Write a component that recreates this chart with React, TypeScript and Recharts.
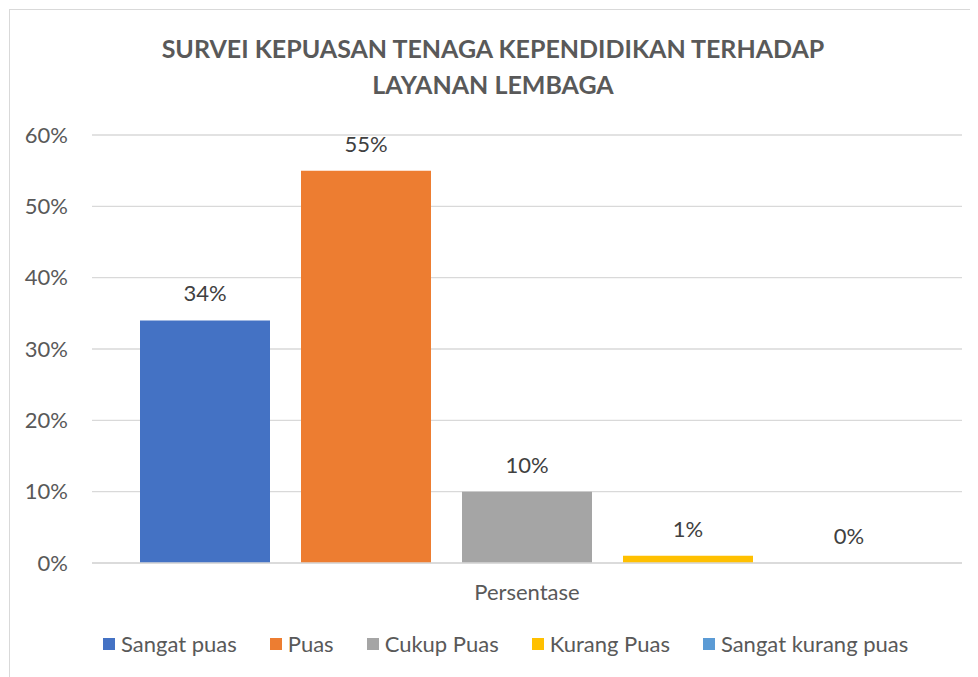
import React from 'react';
import { BarChart, Bar, XAxis, YAxis, CartesianGrid, LabelList } from 'recharts';

const categories = ['Persentase'];
const seriesNames = ['Sangat puas', 'Puas', 'Cukup Puas', 'Kurang Puas', 'Sangat kurang puas'];
const seriesKeys = ['sangatPuas', 'puas', 'cukupPuas', 'kurangPuas', 'sangatKurangPuas'];
const seriesValues = [0.34, 0.55, 0.10, 0.01, 0.0];
const seriesColors = ['#4472C4', '#ED7D31', '#A5A5A5', '#FFC000', '#5B9BD5'];
const yTicks = [0, 0.1, 0.2, 0.3, 0.4, 0.5, 0.6];
const titleLines = ['SURVEI KEPUASAN TENAGA KEPENDIDIKAN TERHADAP', 'LAYANAN LEMBAGA'];

const data = categories.map((c) => {
  const row: Record<string, any> = { name: c };
  seriesKeys.forEach((k, i) => {
    row[k] = seriesValues[i];
  });
  return row;
});

const FONT = 'Lato, "Open Sans", sans-serif';
const pct = (v: number) => `${Math.round(v * 100)}%`;

export default function App() {
  return (
    <div
      style={{
        position: 'relative',
        width: 1000,
        height: 669,
        margin: '1px 0 0 1px',
        border: '1px solid #D9D9D9',
        boxSizing: 'border-box',
        background: '#fff',
        fontFamily: FONT,
      }}
    >
      <div
        style={{
          position: 'absolute',
          left: 0,
          top: 20,
          width: 1000 - 2 - 32,
          textAlign: 'center',
          color: '#595959',
          fontWeight: 700,
          fontSize: 25,
          lineHeight: '36px',
        }}
      >
        {titleLines.map((t) => (
          <div key={t}>{t}</div>
        ))}
      </div>
      <div style={{ position: 'absolute', left: -2, top: -1 }}>
        <BarChart
          width={970}
          height={669}
          data={data}
          margin={{ top: 126, right: 16, left: 0, bottom: 80 }}
          barGap={31}
          barCategoryGap={48}
        >
          <CartesianGrid vertical={false} stroke="#D9D9D9" strokeWidth={1.3} />
          <XAxis
            dataKey="name"
            axisLine={{ stroke: '#D9D9D9', strokeWidth: 1.3 }}
            tickLine={false}
            tickSize={0}
            tickMargin={21}
            height={35}
            tick={{ fill: '#595959', fontSize: 22, fontFamily: FONT }}
          />
          <YAxis
            width={84}
            domain={[0, 0.6]}
            ticks={yTicks}
            tickFormatter={pct}
            axisLine={false}
            tickLine={false}
            tickSize={0}
            tickMargin={24}
            tick={{ fill: '#595959', fontSize: 22, fontFamily: FONT }}
          />
          {seriesKeys.map((k, i) => (
            <Bar
              key={k}
              dataKey={k}
              name={seriesNames[i]}
              fill={seriesColors[i]}
              minPointSize={0.01}
              isAnimationActive={false}
            >
              <LabelList
                dataKey={k}
                position="top"
                offset={19}
                formatter={(v: any) => pct(Number(v))}
                style={{ fill: '#404040', fontSize: 22, fontFamily: FONT }}
              />
            </Bar>
          ))}
        </BarChart>
      </div>
      <div
        style={{
          position: 'absolute',
          left: 93,
          top: 620,
          display: 'flex',
          alignItems: 'center',
          color: '#595959',
          fontSize: 22,
          whiteSpace: 'nowrap',
        }}
      >
        {seriesNames.map((n, i) => (
          <div key={n} style={{ display: 'flex', alignItems: 'center', marginRight: 33 }}>
            <span style={{ display: 'inline-block', width: 12, height: 12, background: seriesColors[i], marginRight: 6 }} />
            <span>{n}</span>
          </div>
        ))}
      </div>
    </div>
  );
}
